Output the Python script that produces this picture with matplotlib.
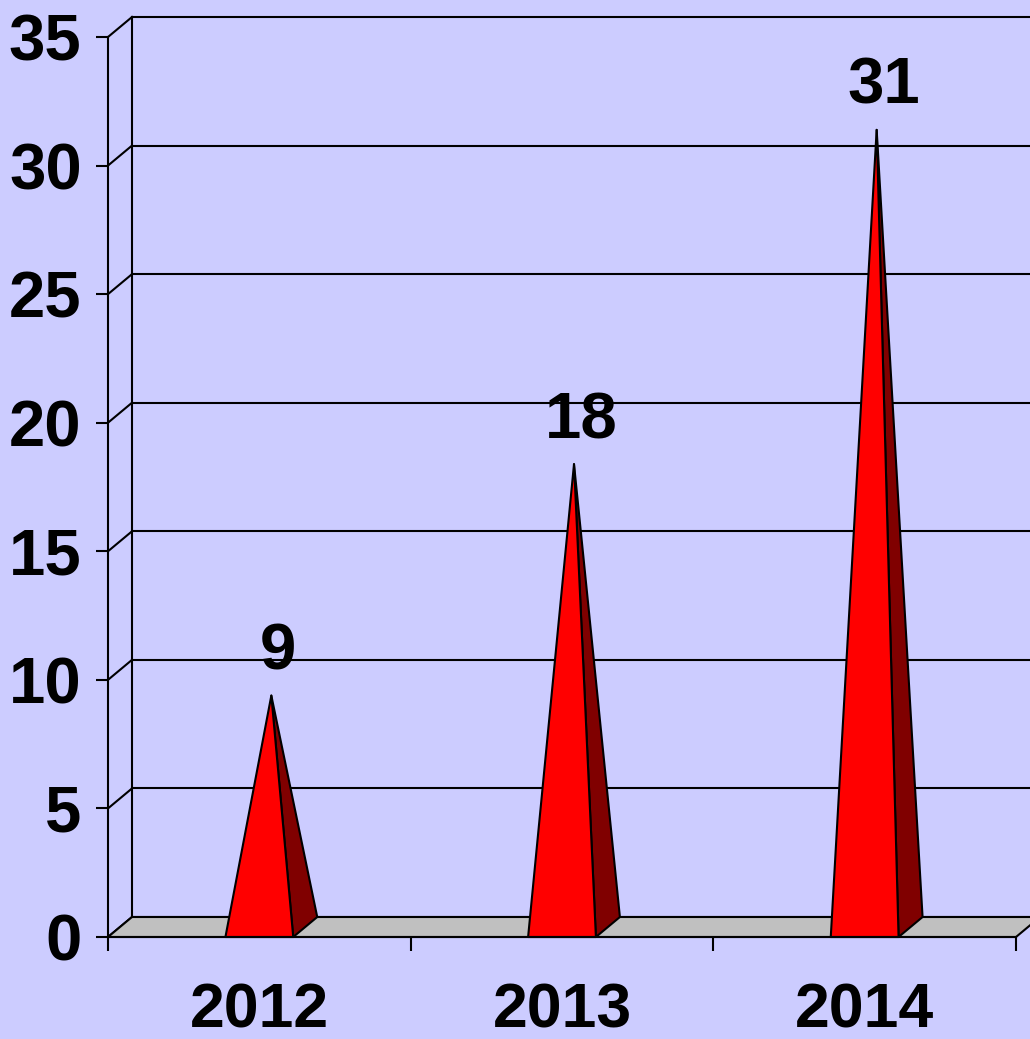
import matplotlib
matplotlib.use('Agg')
import matplotlib.pyplot as plt
from matplotlib.patches import Polygon

# data
years = ['2012', '2013', '2014']
counts = [9, 18, 31]
y_ticks = [0, 5, 10, 15, 20, 25, 30, 35]

BG = '#CCCCFF'
FLOOR = '#C0C0C0'
FRONT = '#FF0000'
SIDE = '#800000'
DEPTH_PX = (24, 20)      # 3d depth offset of the back wall, pixels
HALF = 0.112             # half width of a pyramid base, in category units
LW = 1.5
FONT = dict(family=['Liberation Sans', 'DejaVu Sans'], weight='bold', size=47)
XFONT = dict(FONT, size=45)

W, H = 1030, 1039
fig = plt.figure(figsize=(W / 100, H / 100), dpi=100, facecolor=BG)
ax = fig.add_axes([108 / W, (H - 937) / H, 908 / W, 900 / H])
ax.set_facecolor('none')
ax.set_xlim(0, len(years))
ax.set_ylim(0, 35)

# depth offset in data units
ddx = DEPTH_PX[0] / 908 * len(years)
ddy = DEPTH_PX[1] / 900 * 35

xmax = len(years)
# back wall gridlines and left wall diagonals
for v in y_ticks:
    ax.plot([ddx, xmax + ddx * 2], [v + ddy, v + ddy], color='black', lw=LW,
            clip_on=False, zorder=1)
    ax.plot([0, ddx], [v, v + ddy], color='black', lw=LW, clip_on=False, zorder=1)
ax.plot([ddx, ddx], [ddy, 35 + ddy], color='black', lw=LW, clip_on=False, zorder=1)

# floor
floor = Polygon([(0, 0), (xmax, 0), (xmax + ddx, ddy), (ddx, ddy)], closed=True,
                facecolor=FLOOR, edgecolor='black', lw=LW, clip_on=False, zorder=2)
ax.add_patch(floor)

# pyramids
for i, c in enumerate(counts):
    cx = i + 0.5
    apex = (cx + ddx / 2, c + ddy / 2)
    side = Polygon([(cx + HALF, 0), (cx + HALF + ddx, ddy), apex], closed=True,
                   facecolor=SIDE, edgecolor='black', lw=LW, joinstyle='round',
                   clip_on=False, zorder=3)
    front = Polygon([(cx - HALF, 0), (cx + HALF, 0), apex], closed=True,
                    facecolor=FRONT, edgecolor='black', lw=LW, joinstyle='round',
                    clip_on=False, zorder=4)
    ax.add_patch(side)
    ax.add_patch(front)
    ax.annotate(str(c), xy=apex, xytext=(7, 13), textcoords='offset pixels',
                ha='center', va='bottom', zorder=5, **FONT)

# axes, ticks, labels
for s in ['top', 'right']:
    ax.spines[s].set_visible(False)
for s in ['left', 'bottom']:
    ax.spines[s].set_linewidth(LW)
    ax.spines[s].set_zorder(6)
ax.set_yticks(y_ticks)
ax.set_yticklabels([str(v) for v in y_ticks], fontdict=FONT)
ax.tick_params(axis='y', direction='out', length=9, width=LW, pad=10)
ax.set_xticks([i + 0.5 for i in range(len(years))])
ax.set_xticklabels(years, fontdict=XFONT)
ax.set_xticks(range(len(years) + 1), minor=True)
ax.tick_params(axis='x', which='major', length=0, pad=32)
ax.tick_params(axis='x', which='minor', direction='out', length=10, width=LW)

fig.savefig('out.png', dpi=100, facecolor=BG)
